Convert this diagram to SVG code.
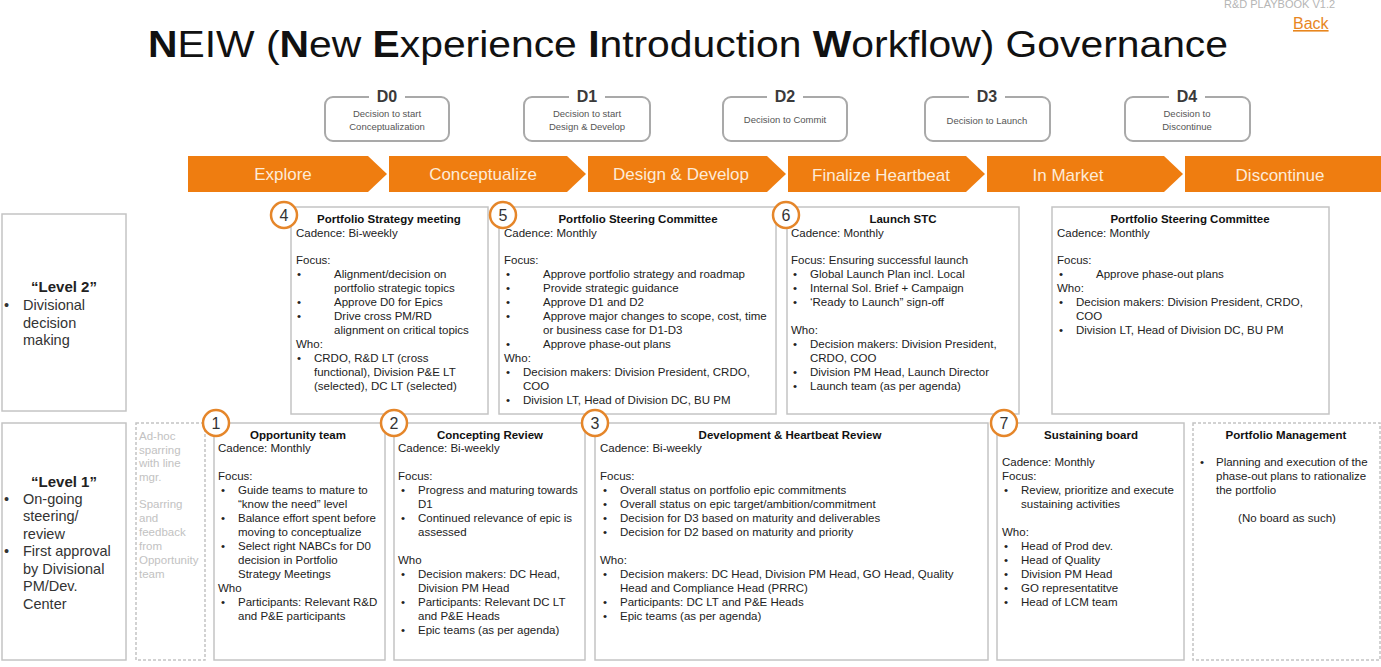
<svg xmlns="http://www.w3.org/2000/svg" width="1381" height="667" viewBox="0 0 1381 667">
  <style>
    text { font-family: "Liberation Sans", Arial, sans-serif; }
    .title { font-size: 37px; fill: #111; }
    .tag { font-size: 11px; fill: #b5b5b5; }
    .back { font-size: 16px; fill: #E8861E; text-decoration: underline; }
    .dlabel { font-size: 16px; font-weight: bold; fill: #3a3a3a; text-anchor: middle; }
    .dtext { font-size: 9.5px; fill: #555; text-anchor: middle; }
    .dbox { fill: #fff; stroke: #a9a9a9; stroke-width: 2; }
    .phase { fill: #EF7D10; }
    .ptext { font-size: 17px; fill: #FDEBD8; text-anchor: middle; }
    .box { fill: #fff; stroke: #c4c4c4; stroke-width: 1.5; }
    .dash { fill: #fff; stroke: #c4c4c4; stroke-width: 1.5; stroke-dasharray: 3 2; }
    .t { font-size: 11.5px; fill: #222; }
    .h { font-size: 11.5px; font-weight: bold; fill: #111; text-anchor: middle; }
    .lvh { font-size: 15px; font-weight: bold; fill: #222; text-anchor: middle; }
    .lv { font-size: 14.5px; fill: #333; }
    .g { font-size: 11.5px; fill: #c2c2c2; }
    .num { fill: #fff; stroke: #E5862A; stroke-width: 2.5; }
    .numt { font-size: 16px; fill: #333; text-anchor: middle; }
  </style>

  <!-- header -->
  <text class="tag" x="1224" y="8">R&amp;D PLAYBOOK V1.2</text>
  <text class="back" x="1293" y="29">Back</text>
  <text class="title" x="148" y="57" textLength="1080" lengthAdjust="spacingAndGlyphs"><tspan font-weight="bold">N</tspan>EIW (<tspan font-weight="bold">N</tspan>ew <tspan font-weight="bold">E</tspan>xperience <tspan font-weight="bold">I</tspan>ntroduction <tspan font-weight="bold">W</tspan>orkflow) Governance</text>

  <!-- decision gates -->
  <g id="gate-d0">
    <rect class="dbox" x="325" y="97" width="124" height="44" rx="8"/>
    <rect x="369" y="88" width="36" height="16" fill="#fff"/>
    <text class="dlabel" x="387" y="102">D0</text>
    <text class="dtext" x="387" y="117">Decision to start</text>
    <text class="dtext" x="387" y="130">Conceptualization</text>
  </g>
  <g id="gate-d1">
    <rect class="dbox" x="524" y="97" width="126" height="44" rx="8"/>
    <rect x="569" y="88" width="36" height="16" fill="#fff"/>
    <text class="dlabel" x="587" y="102">D1</text>
    <text class="dtext" x="587" y="117">Decision to start</text>
    <text class="dtext" x="587" y="130">Design &amp; Develop</text>
  </g>
  <g id="gate-d2">
    <rect class="dbox" x="723" y="97" width="124" height="44" rx="8"/>
    <rect x="767" y="88" width="36" height="16" fill="#fff"/>
    <text class="dlabel" x="785" y="102">D2</text>
    <text class="dtext" x="785" y="123">Decision to Commit</text>
  </g>
  <g id="gate-d3">
    <rect class="dbox" x="925" y="97" width="125" height="44" rx="8"/>
    <rect x="969" y="88" width="36" height="16" fill="#fff"/>
    <text class="dlabel" x="987" y="102">D3</text>
    <text class="dtext" x="987" y="124">Decision to Launch</text>
  </g>
  <g id="gate-d4">
    <rect class="dbox" x="1125" y="97" width="125" height="44" rx="8"/>
    <rect x="1169" y="88" width="36" height="16" fill="#fff"/>
    <text class="dlabel" x="1187" y="102">D4</text>
    <text class="dtext" x="1187" y="117">Decision to</text>
    <text class="dtext" x="1187" y="130">Discontinue</text>
  </g>

  <!-- phase chevrons -->
  <g id="phases">
    <path class="phase" d="M188,156 H368 L387,174 L368,192 H188 Z"/>
    <text class="ptext" x="283" y="180">Explore</text>
    <path class="phase" d="M389,156 H567 L586,174 L567,192 H389 Z"/>
    <text class="ptext" x="483" y="180">Conceptualize</text>
    <path class="phase" d="M588,156 H767 L786,174 L767,192 H588 Z"/>
    <text class="ptext" x="681" y="180">Design &amp; Develop</text>
    <path class="phase" d="M788,156 H966 L985,174 L966,192 H788 Z"/>
    <text class="ptext" x="881" y="181">Finalize Heartbeat</text>
    <path class="phase" d="M987,156 H1164 L1183,174 L1164,192 H987 Z"/>
    <text class="ptext" x="1068" y="181">In Market</text>
    <path class="phase" d="M1185,156 H1383 L1395,174 L1383,192 H1185 Z"/>
    <text class="ptext" x="1280" y="181">Discontinue</text>
  </g>

  <!-- level labels -->
  <g id="level-2">
    <rect class="box" x="2" y="214" width="124" height="197"/>
    <text class="lvh" x="64" y="292">“Level 2”</text>
    <text class="lv" x="4" y="310">•</text>
    <text class="lv" x="23" y="310">Divisional</text>
    <text class="lv" x="23" y="328">decision</text>
    <text class="lv" x="23" y="345">making</text>
  </g>
  <g id="level-1">
    <rect class="box" x="2" y="423" width="124" height="237"/>
    <text class="lvh" x="64" y="487">“Level 1”</text>
    <text class="lv" x="4" y="504">•</text>
    <text class="lv" x="23" y="504">On-going</text>
    <text class="lv" x="23" y="521">steering/</text>
    <text class="lv" x="23" y="539">review</text>
    <text class="lv" x="4" y="556">•</text>
    <text class="lv" x="23" y="556">First approval</text>
    <text class="lv" x="23" y="574">by Divisional</text>
    <text class="lv" x="23" y="591">PM/Dev.</text>
    <text class="lv" x="23" y="609">Center</text>
  </g>

  <!-- ad-hoc sparring -->
  <g id="adhoc">
    <rect class="dash" x="136" y="423" width="69" height="237"/>
    <text class="g" x="139" y="440">Ad-hoc</text>
    <text class="g" x="139" y="454">sparring</text>
    <text class="g" x="139" y="467">with line</text>
    <text class="g" x="139" y="481">mgr.</text>
    <text class="g" x="139" y="508">Sparring</text>
    <text class="g" x="139" y="522">and</text>
    <text class="g" x="139" y="536">feedback</text>
    <text class="g" x="139" y="550">from</text>
    <text class="g" x="139" y="564">Opportunity</text>
    <text class="g" x="139" y="578">team</text>
  </g>

  <!-- 4: Portfolio Strategy meeting -->
  <g id="board-4">
    <rect class="box" x="291" y="207" width="197" height="207"/>
    <text class="h" x="389" y="223">Portfolio Strategy meeting</text>
    <text class="t" x="296" y="237">Cadence: Bi-weekly</text>
    <text class="t" x="296" y="264">Focus:</text>
    <text class="t" x="297" y="278">•</text>
    <text class="t" x="334" y="278">Alignment/decision on</text>
    <text class="t" x="334" y="292">portfolio strategic topics</text>
    <text class="t" x="297" y="306">•</text>
    <text class="t" x="334" y="306">Approve D0 for Epics</text>
    <text class="t" x="297" y="320">•</text>
    <text class="t" x="334" y="320">Drive cross PM/RD</text>
    <text class="t" x="334" y="334">alignment on critical topics</text>
    <text class="t" x="296" y="348">Who:</text>
    <text class="t" x="297" y="362">•</text>
    <text class="t" x="314" y="362">CRDO, R&amp;D LT (cross</text>
    <text class="t" x="314" y="376">functional), Division P&amp;E LT</text>
    <text class="t" x="314" y="390">(selected), DC LT (selected)</text>
    <circle class="num" cx="284" cy="215" r="13"/>
    <text class="numt" x="284" y="221">4</text>
  </g>

  <!-- 5: Portfolio Steering Committee -->
  <g id="board-5">
    <rect class="box" x="499" y="207" width="277" height="207"/>
    <text class="h" x="638" y="223">Portfolio Steering Committee</text>
    <text class="t" x="504" y="237">Cadence: Monthly</text>
    <text class="t" x="504" y="264">Focus:</text>
    <text class="t" x="506" y="278">•</text>
    <text class="t" x="543" y="278">Approve portfolio strategy  and roadmap</text>
    <text class="t" x="506" y="292">•</text>
    <text class="t" x="543" y="292">Provide strategic guidance</text>
    <text class="t" x="506" y="306">•</text>
    <text class="t" x="543" y="306">Approve D1 and D2</text>
    <text class="t" x="506" y="320">•</text>
    <text class="t" x="543" y="320">Approve major changes to scope, cost, time</text>
    <text class="t" x="543" y="334">or business case for D1-D3</text>
    <text class="t" x="506" y="348">•</text>
    <text class="t" x="543" y="348">Approve phase-out plans</text>
    <text class="t" x="504" y="362">Who:</text>
    <text class="t" x="506" y="376">•</text>
    <text class="t" x="523" y="376">Decision makers: Division President, CRDO,</text>
    <text class="t" x="523" y="390">COO</text>
    <text class="t" x="506" y="404">•</text>
    <text class="t" x="523" y="404">Division LT, Head of Division DC, BU PM</text>
    <circle class="num" cx="503" cy="215" r="13"/>
    <text class="numt" x="503" y="221">5</text>
  </g>

  <!-- 6: Launch STC -->
  <g id="board-6">
    <rect class="box" x="787" y="207" width="232" height="207"/>
    <text class="h" x="903" y="223">Launch STC</text>
    <text class="t" x="791" y="237">Cadence: Monthly</text>
    <text class="t" x="791" y="264">Focus: Ensuring successful launch</text>
    <text class="t" x="793" y="278">•</text>
    <text class="t" x="810" y="278">Global Launch Plan incl. Local</text>
    <text class="t" x="793" y="292">•</text>
    <text class="t" x="810" y="292">Internal Sol. Brief + Campaign</text>
    <text class="t" x="793" y="306">•</text>
    <text class="t" x="810" y="306">‘Ready to Launch” sign-off</text>
    <text class="t" x="791" y="334">Who:</text>
    <text class="t" x="793" y="348">•</text>
    <text class="t" x="810" y="348">Decision makers: Division President,</text>
    <text class="t" x="810" y="362">CRDO, COO</text>
    <text class="t" x="793" y="376">•</text>
    <text class="t" x="810" y="376">Division PM Head, Launch Director</text>
    <text class="t" x="793" y="390">•</text>
    <text class="t" x="810" y="390">Launch team (as per agenda)</text>
    <circle class="num" cx="786" cy="215" r="13"/>
    <text class="numt" x="786" y="221">6</text>
  </g>

  <!-- Portfolio Steering Committee (discontinue) -->
  <g id="board-psc-discontinue">
    <rect class="box" x="1052" y="207" width="277" height="207"/>
    <text class="h" x="1190" y="223">Portfolio Steering Committee</text>
    <text class="t" x="1057" y="237">Cadence: Monthly</text>
    <text class="t" x="1057" y="264">Focus:</text>
    <text class="t" x="1059" y="278">•</text>
    <text class="t" x="1096" y="278">Approve phase-out plans</text>
    <text class="t" x="1057" y="292">Who:</text>
    <text class="t" x="1059" y="306">•</text>
    <text class="t" x="1076" y="306">Decision makers: Division President, CRDO,</text>
    <text class="t" x="1076" y="320">COO</text>
    <text class="t" x="1059" y="334">•</text>
    <text class="t" x="1076" y="334">Division LT, Head of Division DC, BU PM</text>
  </g>

  <!-- 1: Opportunity team -->
  <g id="board-1">
    <rect class="box" x="214" y="423" width="171" height="237"/>
    <text class="h" x="298" y="439">Opportunity team</text>
    <text class="t" x="218" y="452">Cadence: Monthly</text>
    <text class="t" x="218" y="480">Focus:</text>
    <text class="t" x="221" y="494">•</text>
    <text class="t" x="238" y="494">Guide teams to mature to</text>
    <text class="t" x="238" y="508">“know the need” level</text>
    <text class="t" x="221" y="522">•</text>
    <text class="t" x="238" y="522">Balance effort spent before</text>
    <text class="t" x="238" y="536">moving to conceptualize</text>
    <text class="t" x="221" y="550">•</text>
    <text class="t" x="238" y="550">Select right NABCs for D0</text>
    <text class="t" x="238" y="564">decision in Portfolio</text>
    <text class="t" x="238" y="578">Strategy Meetings</text>
    <text class="t" x="218" y="592">Who</text>
    <text class="t" x="221" y="606">•</text>
    <text class="t" x="238" y="606">Participants: Relevant R&amp;D</text>
    <text class="t" x="238" y="620">and P&amp;E participants</text>
    <circle class="num" cx="216" cy="423" r="13"/>
    <text class="numt" x="216" y="429">1</text>
  </g>

  <!-- 2: Concepting Review -->
  <g id="board-2">
    <rect class="box" x="394" y="423" width="191" height="237"/>
    <text class="h" x="490" y="439">Concepting Review</text>
    <text class="t" x="398" y="452">Cadence: Bi-weekly</text>
    <text class="t" x="398" y="480">Focus:</text>
    <text class="t" x="401" y="494">•</text>
    <text class="t" x="418" y="494">Progress and maturing towards</text>
    <text class="t" x="418" y="508">D1</text>
    <text class="t" x="401" y="522">•</text>
    <text class="t" x="418" y="522">Continued relevance of epic is</text>
    <text class="t" x="418" y="536">assessed</text>
    <text class="t" x="398" y="564">Who</text>
    <text class="t" x="401" y="578">•</text>
    <text class="t" x="418" y="578">Decision makers: DC Head,</text>
    <text class="t" x="418" y="592">Division PM Head</text>
    <text class="t" x="401" y="606">•</text>
    <text class="t" x="418" y="606">Participants: Relevant DC LT</text>
    <text class="t" x="418" y="620">and P&amp;E Heads</text>
    <text class="t" x="401" y="634">•</text>
    <text class="t" x="418" y="634">Epic teams (as per agenda)</text>
    <circle class="num" cx="394" cy="423" r="13"/>
    <text class="numt" x="394" y="429">2</text>
  </g>

  <!-- 3: Development & Heartbeat Review -->
  <g id="board-3">
    <rect class="box" x="595" y="423" width="393" height="237"/>
    <text class="h" x="790" y="439">Development &amp; Heartbeat Review</text>
    <text class="t" x="600" y="452">Cadence: Bi-weekly</text>
    <text class="t" x="600" y="480">Focus:</text>
    <text class="t" x="603" y="494">•</text>
    <text class="t" x="620" y="494">Overall status on portfolio epic commitments</text>
    <text class="t" x="603" y="508">•</text>
    <text class="t" x="620" y="508">Overall status on epic target/ambition/commitment</text>
    <text class="t" x="603" y="522">•</text>
    <text class="t" x="620" y="522">Decision for D3 based on maturity and deliverables</text>
    <text class="t" x="603" y="536">•</text>
    <text class="t" x="620" y="536">Decision for D2 based on maturity and priority</text>
    <text class="t" x="600" y="564">Who:</text>
    <text class="t" x="603" y="578">•</text>
    <text class="t" x="620" y="578">Decision makers: DC Head, Division PM Head, GO Head, Quality</text>
    <text class="t" x="620" y="592">Head and Compliance Head (PRRC)</text>
    <text class="t" x="603" y="606">•</text>
    <text class="t" x="620" y="606">Participants: DC LT and P&amp;E Heads</text>
    <text class="t" x="603" y="620">•</text>
    <text class="t" x="620" y="620">Epic teams (as per agenda)</text>
    <circle class="num" cx="595" cy="423" r="13"/>
    <text class="numt" x="595" y="429">3</text>
  </g>

  <!-- 7: Sustaining board -->
  <g id="board-7">
    <rect class="box" x="997" y="423" width="187" height="237"/>
    <text class="h" x="1091" y="439">Sustaining board</text>
    <text class="t" x="1002" y="466">Cadence: Monthly</text>
    <text class="t" x="1002" y="480">Focus:</text>
    <text class="t" x="1004" y="494">•</text>
    <text class="t" x="1021" y="494">Review, prioritize and execute</text>
    <text class="t" x="1021" y="508">sustaining activities</text>
    <text class="t" x="1002" y="536">Who:</text>
    <text class="t" x="1004" y="550">•</text>
    <text class="t" x="1021" y="550">Head of Prod dev.</text>
    <text class="t" x="1004" y="564">•</text>
    <text class="t" x="1021" y="564">Head of Quality</text>
    <text class="t" x="1004" y="578">•</text>
    <text class="t" x="1021" y="578">Division PM Head</text>
    <text class="t" x="1004" y="592">•</text>
    <text class="t" x="1021" y="592">GO representatitve</text>
    <text class="t" x="1004" y="606">•</text>
    <text class="t" x="1021" y="606">Head of LCM team</text>
    <circle class="num" cx="1004" cy="423" r="13"/>
    <text class="numt" x="1004" y="429">7</text>
  </g>

  <!-- Portfolio Management -->
  <g id="portfolio-management">
    <rect class="dash" x="1193" y="423" width="187" height="237"/>
    <text class="h" x="1286" y="439">Portfolio Management</text>
    <text class="t" x="1200" y="466">•</text>
    <text class="t" x="1216" y="466">Planning and execution of the</text>
    <text class="t" x="1216" y="480">phase-out plans to rationalize</text>
    <text class="t" x="1216" y="494">the portfolio</text>
    <text class="t" x="1287" y="522" text-anchor="middle">(No board as such)</text>
  </g>
</svg>
